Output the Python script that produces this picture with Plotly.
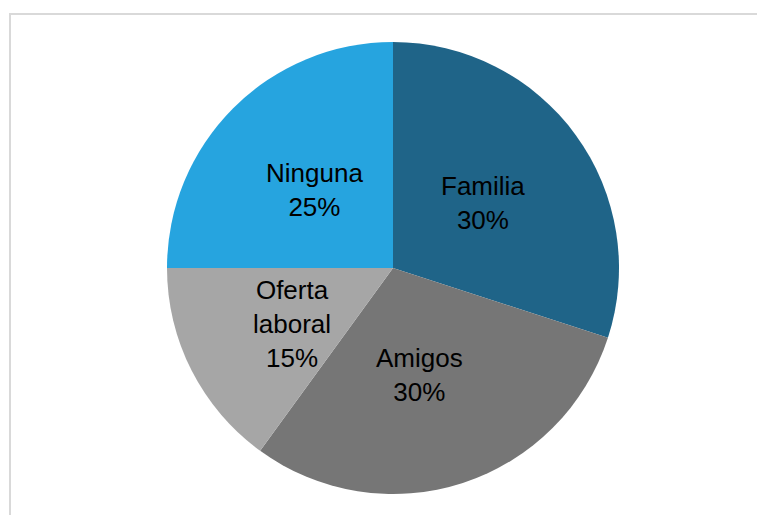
import math
import plotly.graph_objects as go

labels = ["Familia", "Amigos", "Oferta laboral", "Ninguna"]
display_labels = ["Familia", "Amigos", "Oferta<br>laboral", "Ninguna"]
values = [30, 30, 15, 25]
colors = ["#1f6488", "#767676", "#a6a6a6", "#26a4df"]

W, H = 765, 515
cx, cy, r = 385, 260, 226  # page body margin of 8px adds the remaining offset

# label placement (style): fraction of radius along slice bisector, small best-fit angle shifts
label_radius = {"Familia": 0.49, "Amigos": 0.49, "Oferta laboral": 0.51, "Ninguna": 0.49}
label_angle_shift = {"Amigos": 4, "Oferta laboral": -2}

fig = go.Figure(go.Pie(
    labels=labels,
    values=values,
    textinfo="none",
    sort=False,
    direction="clockwise",
    rotation=0,
    marker=dict(colors=colors, line=dict(width=0)),
    showlegend=False,
    hoverinfo="label+percent",
    domain=dict(x=[(cx - r) / W, (cx + r) / W], y=[(H - cy - r) / H, (H - cy + r) / H]),
))

total = sum(values)
annotations = []
cum = 0
for lab, disp, v in zip(labels, display_labels, values):
    mid = (cum + v / 2) / total * 360 + label_angle_shift.get(lab, 0)
    cum += v
    rad = math.radians(mid)
    rr = label_radius[lab] * r
    px = cx + rr * math.sin(rad)
    py = cy - rr * math.cos(rad)
    pct = round(v / total * 100)
    annotations.append(dict(
        x=px / W, y=(H - py) / H, xref="paper", yref="paper",
        text=f"{disp}<br>{pct}%", showarrow=False,
        xanchor="center", yanchor="middle", align="center",
        font=dict(family="Liberation Sans, Arial, sans-serif", size=26, color="#000000"),
    ))

fig.update_layout(
    width=W, height=H,
    margin=dict(l=0, r=0, t=0, b=0),
    paper_bgcolor="white",
    plot_bgcolor="white",
    annotations=annotations,
    shapes=[dict(type="rect", xref="paper", yref="paper",
                 x0=2 / W, x1=1.2, y0=-0.2, y1=(H - 6) / H,
                 line=dict(color="#d9d9d9", width=2), fillcolor="rgba(0,0,0,0)", layer="below")],
)

fig.write_html("out.html")
